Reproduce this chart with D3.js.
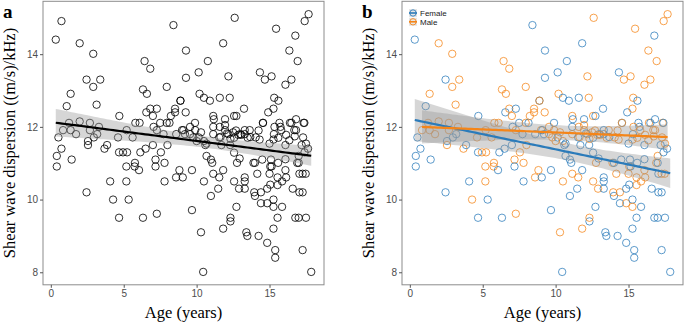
<!DOCTYPE html>
<html>
<head>
<meta charset="utf-8">
<script src="https://cdn.jsdelivr.net/npm/d3@7"></script>
<style>
body { margin: 0; background: #fff; }
svg { display: block; }
</style>
</head>
<body>
<div id="chart"></div>
<script>
// age (years) of each child
const age = [
  0.34,0.73,1.98,0.41,0.41,0.52,0.73,0.84,1.09,1.25,
  1.36,1.43,1.36,1.73,1.98,2.91,2.45,2.91,3.39,3.14,
  2.45,2.55,2.55,2.68,2.68,2.95,3.18,3.30,3.68,3.86,
  4.07,4.27,4.61,4.70,4.68,4.68,4.95,5.23,5.20,5.18,
  5.18,5.34,5.61,5.75,5.80,6.05,6.14,6.09,5.77,6.32,
  6.32,6.43,6.59,6.55,6.50,6.82,6.82,7.00,7.05,7.00,
  7.18,7.18,7.27,7.27,7.27,7.50,7.55,7.73,7.80,7.80,
  7.95,7.95,8.14,8.23,8.41,8.52,8.52,8.59,8.89,8.89,
  8.82,9.05,9.27,9.27,9.25,9.00,9.20,9.55,9.55,9.68,
  9.68,9.89,9.90,10.00,8.60,8.00,10.14,10.20,10.30,10.45,
  10.50,10.50,10.14,10.50,10.60,10.68,10.77,10.91,10.98,10.98,
  11.07,11.14,11.18,11.14,11.14,11.14,11.48,11.55,11.59,11.59,
  11.55,11.82,11.82,11.82,11.95,11.95,11.70,12.18,12.27,12.18,
  12.30,12.32,12.32,12.61,12.57,12.57,12.57,12.73,12.73,12.77,
  12.91,12.70,13.00,13.25,13.30,13.30,13.30,13.41,13.48,13.30,
  13.64,13.50,13.95,14.00,13.90,14.16,14.34,14.41,14.41,14.25,
  14.25,14.55,14.55,14.50,14.68,14.84,14.84,14.84,14.91,15.05,
  15.14,15.14,15.00,15.27,15.27,15.27,15.39,15.39,15.45,15.32,
  15.27,15.55,15.55,15.55,15.61,15.68,15.75,15.86,15.86,15.60,
  15.30,15.10,16.09,16.09,16.09,16.14,16.36,16.50,16.40,16.50,
  16.59,16.77,16.77,16.82,16.82,16.93,16.90,17.00,17.05,17.27,
  17.05,17.27,17.48,17.27,17.41,17.34,17.39,17.30,17.20,17.50,
  17.68,17.64,17.86,17.00,17.40,11.95,13.30,15.34,15.80,16.70,
  9.09,10.30,11.64,12.09,12.50,12.86,13.07,13.68,14.05,15.27,
  16.14,16.73,9.77,10.68,12.32,14.32,15.00,16.36,17.50,12.57,
  12.95,14.00,15.59,16.09,17.00,15.05
];
// shear wave dispersion ((m/s)/kHz)
const dispersion = [
  14.40,14.91,14.30,10.91,11.20,11.71,11.40,11.91,12.57,12.11,
  12.91,11.10,11.91,11.80,12.15,14.01,13.30,13.10,13.30,12.61,
  10.20,11.61,11.50,12.11,11.91,11.71,11.80,12.00,11.40,11.50,
  10.50,10.00,11.71,12.30,9.50,11.30,11.30,11.30,11.91,10.91,
  10.50,10.00,11.71,10.91,12.11,10.81,11.30,12.11,11.01,9.50,
  13.03,13.81,12.91,12.40,11.40,13.60,12.50,12.30,12.00,11.50,
  11.10,10.91,11.91,12.50,9.61,12.11,11.30,11.80,11.01,10.50,
  13.10,12.11,12.11,12.30,14.80,12.50,12.40,10.61,12.72,12.72,
  10.81,10.61,14.10,13.35,12.40,11.91,11.80,12.00,11.80,9.71,
  10.81,12.11,11.91,11.61,11.80,11.50,13.50,12.91,9.10,8.01,
  10.50,12.80,11.71,11.61,11.50,11.20,13.81,12.72,10.10,11.10,
  11.01,12.30,12.21,12.00,11.80,10.71,10.30,10.61,12.80,12.00,
  11.71,14.30,9.20,10.81,12.21,11.91,11.50,13.39,12.80,11.80,
  11.50,9.40,9.50,15.00,12.30,10.50,11.70,12.30,9.80,11.01,
  10.30,11.90,11.80,12.50,10.61,10.50,10.30,9.10,9.00,11.80,
  11.91,11.70,10.20,10.10,11.01,10.71,13.50,10.20,9.90,9.00,
  11.90,12.11,12.11,11.10,13.30,8.81,9.90,10.30,12.40,10.91,
  10.91,13.39,10.71,10.00,9.80,9.20,8.61,8.40,14.70,12.80,
  12.50,10.61,10.40,9.50,12.72,12.11,12.00,9.80,10.50,11.70,
  11.80,11.10,11.50,13.16,10.81,10.61,14.10,13.30,12.11,12.11,
  10.30,9.50,14.51,12.21,11.91,13.81,11.01,9.50,10.20,10.20,
  10.71,10.71,10.71,8.61,14.91,12.11,12.11,11.71,11.50,9.50,
  15.10,11.40,8.01,11.20,11.30,12.05,11.91,12.00,11.91,11.91,
  11.91,11.85,11.72,11.82,11.85,11.78,11.78,11.72,11.71,11.65,
  11.78,11.74,11.71,11.54,11.67,11.65,11.54,11.63,11.54,11.29,
  11.13,11.01,11.01,11.11,11.01,10.41
];
// F = female, M = male
const sex = [
  "F","F","M","F","F","F","F","M","F","M",
  "M","F","M","M","M","M","F","M","M","M",
  "F","F","M","M","M","F","F","M","M","F",
  "F","M","M","F","F","F","M","M","M","M",
  "M","F","M","M","M","F","F","M","M","F",
  "M","M","M","F","F","M","M","M","F","F",
  "M","F","M","F","M","F","M","F","M","F",
  "M","M","F","M","F","M","M","M","F","M",
  "M","F","F","F","M","M","F","M","M","F",
  "F","F","M","M","F","M","F","M","M","F",
  "M","F","F","M","F","F","F","F","F","F",
  "F","M","F","F","M","M","F","M","F","M",
  "F","F","M","F","F","M","F","M","M","M",
  "F","F","M","M","M","M","F","F","F","M",
  "M","M","F","F","F","F","F","F","F","F",
  "M","M","M","F","M","M","F","M","F","F",
  "M","F","M","F","M","F","M","F","F","M",
  "F","M","M","F","M","F","F","F","M","M",
  "M","M","M","F","F","F","F","F","M","M",
  "F","F","F","M","M","M","M","M","M","F",
  "F","F","F","F","M","M","M","F","F","F",
  "F","M","M","F","M","M","F","M","F","F",
  "M","F","F","M","F","M","F","M","M","M",
  "F","M","M","F","M","M","M","F","M","M",
  "M","M","M","F","M","M","F","M","M","F",
  "F","F","F","F","F","F"
];
const groups = ["Female", "Male"];
const groupCodes = {Female: "F", Male: "M"};
const xTicks = [0, 5, 10, 15];
const yTicks = [8, 10, 12, 14];

const colors = {Female: "#2b7bba", Male: "#f58518"};
const width = 685, height = 324;
const plotTop = 1.3, plotBottom = 284.8;

const svg = d3.select("#chart").append("svg")
  .attr("width", width).attr("height", height);

const rows = age.map((a, i) => ({age: a, val: dispersion[i], sex: sex[i]}));

// ggplot-like 5% expansion
function expand(ext) {
  const r = ext[1] - ext[0];
  return [ext[0] - r * 0.05, ext[1] + r * 0.05];
}
const xDomain = expand(d3.extent(age));
const yDomain = expand(d3.extent(dispersion));

// linear fit with 95% confidence band
function tQuant(df) {
  const z = 1.959964;
  return z + (z * z * z + z) / (4 * df) + (5 * z ** 5 + 16 * z ** 3 + 3 * z) / (96 * df * df);
}
function linFit(pts) {
  const n = pts.length;
  const mx = d3.mean(pts, d => d.age), my = d3.mean(pts, d => d.val);
  let sxx = 0, sxy = 0;
  pts.forEach(d => { sxx += (d.age - mx) ** 2; sxy += (d.age - mx) * (d.val - my); });
  const b = sxy / sxx, a = my - b * mx;
  let sse = 0;
  pts.forEach(d => { sse += (d.val - a - b * d.age) ** 2; });
  const s = Math.sqrt(sse / (n - 2));
  const t = tQuant(n - 2);
  const [x0, x1] = d3.extent(pts, d => d.age);
  return d3.range(81).map(i => {
    const x = x0 + (x1 - x0) * i / 80;
    const y = a + b * x;
    const se = s * Math.sqrt(1 / n + (x - mx) ** 2 / sxx);
    return {x: x, y: y, lo: y - t * se, hi: y + t * se};
  });
}

function drawPanel(left, right, letter, byGroup) {
  const x = d3.scaleLinear().domain(xDomain).range([left, right]);
  const y = d3.scaleLinear().domain(yDomain).range([plotBottom, plotTop]);
  const g = svg.append("g");

  const pts = g.append("g");
  pts.selectAll("circle")
    .data(rows).enter()
    .append("circle")
    .attr("cx", d => x(d.age))
    .attr("cy", d => y(d.val))
    .attr("r", 3.7)
    .attr("fill", "none")
    .attr("stroke", d => byGroup ? colors[d.sex === "F" ? "Female" : "Male"] : "#000")
    .attr("stroke-opacity", byGroup ? 0.85 : 0.9)
    .attr("stroke-width", 0.9);

  const fits = byGroup
    ? groups.map(k => ({key: k, col: colors[k], line: linFit(rows.filter(d => d.sex === groupCodes[k]))}))
    : [{key: "all", col: "#000", line: linFit(rows)}];

  const band = d3.area().x(d => x(d.x)).y0(d => y(d.lo)).y1(d => y(d.hi));
  const line = d3.line().x(d => x(d.x)).y(d => y(d.y));
  fits.forEach(f => {
    g.append("path").attr("d", band(f.line))
      .attr("fill", "#999").attr("fill-opacity", 0.4);
  });
  fits.forEach(f => {
    g.append("path").attr("d", line(f.line))
      .attr("fill", "none").attr("stroke", f.col).attr("stroke-width", 2.2);
  });

  // frame
  g.append("rect")
    .attr("x", left).attr("y", plotTop)
    .attr("width", right - left).attr("height", plotBottom - plotTop)
    .attr("fill", "none").attr("stroke", "#8c8c8c").attr("stroke-width", 1);

  const xAxis = g.append("g").attr("transform", `translate(0,${plotBottom})`)
    .call(d3.axisBottom(x).tickValues(xTicks).tickSize(3).tickPadding(2));
  const yAxis = g.append("g").attr("transform", `translate(${left},0)`)
    .call(d3.axisLeft(y).tickValues(yTicks).tickSize(3).tickPadding(2));
  [xAxis, yAxis].forEach(ax => {
    ax.select(".domain").remove();
    ax.selectAll("line").attr("stroke", "#555");
    ax.selectAll("text").attr("fill", "#4d4d4d")
      .style("font-family", "'Liberation Sans', Arial, sans-serif").style("font-size", "10px");
  });

  g.append("text")
    .attr("x", (left + right) / 2).attr("y", 318)
    .attr("text-anchor", "middle")
    .style("font-family", "'Liberation Serif', 'Times New Roman', serif").style("font-size", "16.5px")
    .text("Age (years)");
  g.append("text")
    .attr("transform", `translate(${left - 28},${(plotTop + plotBottom) / 2}) rotate(-90)`)
    .attr("text-anchor", "middle")
    .style("font-family", "'Liberation Serif', 'Times New Roman', serif").style("font-size", "16.5px")
    .text("Shear wave dispersion ((m/s)/kHz)");
  g.append("text")
    .attr("x", left - 40).attr("y", 18)
    .style("font-family", "'Liberation Serif', 'Times New Roman', serif").style("font-size", "19px")
    .style("font-weight", "bold")
    .text(letter);

  if (byGroup) {
    const lg = g.append("g").attr("transform", `translate(${left + 7},9)`);
    lg.append("rect").attr("x", -3).attr("y", -1).attr("width", 45).attr("height", 19).attr("fill", "#fff");
    groups.forEach((k, i) => {
      const row = lg.append("g").attr("transform", `translate(0,${i * 8.8})`);
      row.append("rect").attr("x", 0).attr("y", 0).attr("width", 8).attr("height", 8)
        .attr("fill", "#999").attr("fill-opacity", 0.25);
      row.append("line").attr("x1", 0).attr("x2", 8).attr("y1", 4).attr("y2", 4)
        .attr("stroke", colors[k]).attr("stroke-width", 1.6);
      row.append("circle").attr("cx", 4).attr("cy", 4).attr("r", 3.2)
        .attr("fill", "none").attr("stroke", colors[k]).attr("stroke-width", 0.9);
      row.append("text").attr("x", 11).attr("y", 7.2)
        .style("font-family", "'Liberation Sans', Arial, sans-serif").style("font-size", "8px")
        .attr("fill", "#1a1a1a").text(k);
    });
  }
}

drawPanel(43, 324, "a", false);
drawPanel(402, 683, "b", true);
</script>
</body>
</html>
